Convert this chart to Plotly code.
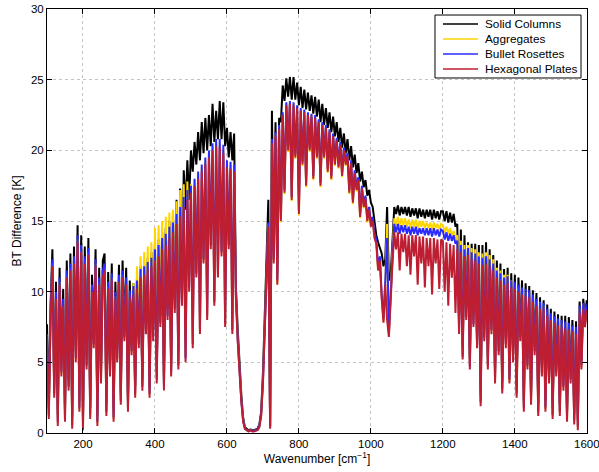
import plotly.graph_objects as go

wavenumber = list(range(100, 1605, 5))

solid_columns = [
    7.7, 1.8, 9.2, 13.0, 3.3, 10.7, 1.3, 11.7, 4.8, 10.2,
    1.6, 12.2, 3.8, 12.7, 1.1, 13.2, 5.8, 14.7, 2.3, 14.0,
    1.0, 13.2, 5.3, 13.8, 1.8, 11.2, 6.8, 13.0, 1.3, 11.7,
    4.3, 12.2, 12.7, 2.0, 11.4, 4.8, 12.0, 1.6, 10.7, 5.8,
    11.9, 2.8, 12.2, 7.3, 11.7, 2.3, 10.8, 6.3, 10.6, 3.3,
    11.0, 6.8, 11.8, 3.8, 12.0, 7.8, 12.4, 3.3, 12.8, 7.3,
    13.4, 4.3, 13.7, 8.3, 14.2, 3.8, 14.5, 8.8, 15.0, 4.8,
    15.6, 9.3, 16.5, 5.8, 17.3, 9.8, 18.6, 15.8, 19.3, 16.5,
    20.0, 18.5, 20.6, 19.0, 21.3, 19.3, 22.0, 19.8, 22.3, 20.0,
    22.5, 20.3, 23.3, 20.6, 22.8, 20.8, 23.5, 20.8, 23.4, 20.3,
    21.6, 19.5, 21.3, 19.3, 21.2, 10.3, 7.3, 4.8, 2.7, 1.1,
    0.4, 0.3, 0.2, 0.25, 0.2, 0.2, 0.25, 0.3, 0.6, 1.5,
    4.2, 8.5, 12.8, 16.5, 0.5, 22.8, 12.8, 22.0, 11.3, 22.3,
    22.0, 24.6, 23.5, 25.1, 23.8, 25.2, 23.6, 25.2, 23.6, 24.8,
    23.2, 24.5, 23.0, 24.3, 22.9, 24.1, 22.8, 23.9, 22.6, 23.8,
    22.4, 23.6, 22.0, 23.3, 21.8, 23.0, 21.6, 22.7, 21.3, 22.4,
    21.0, 22.0, 20.6, 21.6, 20.2, 21.2, 19.8, 20.8, 19.3, 20.3,
    18.8, 19.7, 18.4, 19.1, 17.8, 18.5, 17.4, 17.9, 16.8, 17.2,
    16.3, 16.0, 15.0, 14.0, 13.5, 13.0, 12.7, 11.8, 12.3, 16.0,
    10.8, 11.2, 13.5, 16.0, 15.5, 16.1, 15.4, 16.0, 15.5, 16.0,
    15.4, 16.0, 15.3, 15.9, 15.4, 15.9, 15.2, 15.9, 15.3, 15.8,
    15.2, 15.8, 15.3, 15.8, 15.1, 15.8, 15.2, 15.7, 15.1, 15.7,
    15.7, 15.0, 15.7, 14.9, 15.6, 14.9, 15.5, 14.6, 14.8, 8.0,
    14.4, 6.0, 14.0, 8.8, 13.5, 5.3, 13.4, 8.3, 13.4, 6.8,
    13.3, 2.7, 13.3, 7.3, 13.5, 5.3, 13.0, 7.8, 12.6, 4.3,
    12.2, 6.3, 12.0, 3.6, 11.6, 6.8, 11.7, 4.3, 11.3, 5.8,
    11.2, 3.3, 11.0, 7.3, 10.8, 2.3, 10.6, 5.3, 10.4, 2.8,
    10.1, 6.3, 9.9, 2.0, 9.6, 4.8, 9.4, 2.3, 9.1, 4.3,
    8.8, 1.8, 8.6, 4.8, 8.4, 2.0, 8.3, 3.8, 8.3, 1.6,
    8.2, 4.3, 8.0, 1.4, 7.9, 1.0, 9.3, 5.3, 9.5, 8.3,
    9.4,
]

aggregates = [
    6.7, 1.2, 8.2, 12.0, 2.7, 9.7, 0.7, 10.7, 4.2, 9.2,
    1.0, 11.2, 3.2, 11.7, 0.5, 12.2, 5.2, 13.7, 1.7, 13.0,
    0.4, 12.2, 4.7, 12.8, 1.2, 10.2, 6.2, 12.0, 0.7, 10.7,
    3.7, 11.2, 11.7, 1.4, 10.4, 4.2, 11.0, 1.0, 9.7, 5.2,
    10.9, 2.2, 11.2, 6.7, 10.7, 1.7, 9.8, 5.7, 10.6, 2.7,
    11.8, 7.5, 12.5, 3.2, 12.8, 8.5, 13.2, 2.7, 13.5, 8.0,
    14.5, 4.0, 14.7, 8.5, 15.0, 3.5, 15.3, 9.0, 15.6, 4.5,
    15.8, 9.0, 16.4, 5.0, 17.2, 9.5, 17.6, 5.5, 17.8, 10.5,
    17.6, 6.2, 17.9, 11.2, 18.3, 7.2, 18.8, 12.2, 19.3, 8.2,
    19.8, 13.2, 20.3, 9.2, 20.6, 11.2, 20.5, 12.7, 20.1, 7.7,
    19.1, 13.2, 19.0, 7.2, 18.8, 9.6, 6.6, 4.3, 2.3, 0.9,
    0.3, 0.2, 0.15, 0.2, 0.15, 0.15, 0.2, 0.25, 0.45, 1.25,
    3.6, 7.6, 11.7, 14.8, 0.4, 20.7, 12.2, 21.2, 10.6, 21.7,
    14.9, 22.6, 16.9, 23.3, 19.9, 23.4, 16.4, 23.3, 19.4, 23.1,
    15.4, 22.9, 18.9, 22.8, 17.4, 22.6, 19.9, 22.5, 17.9, 22.4,
    19.4, 22.1, 17.4, 21.9, 19.4, 21.7, 18.4, 21.4, 17.9, 21.1,
    18.9, 20.8, 18.7, 20.5, 18.1, 20.1, 18.9, 19.7, 16.9, 19.2,
    16.2, 18.5, 17.1, 18.0, 15.2, 17.4, 15.9, 16.7, 14.9, 15.9,
    14.7, 15.1, 13.9, 13.5, 11.6, 12.3, 9.6, 7.9, 10.6, 14.8,
    7.0, 10.5, 12.8, 15.2, 14.7, 15.3, 14.6, 15.2, 14.7, 15.2,
    14.6, 15.1, 14.5, 15.1, 14.6, 15.1, 14.5, 15.0, 14.6, 15.0,
    14.5, 14.9, 14.5, 14.9, 14.4, 14.9, 14.5, 14.8, 14.4, 14.8,
    14.7, 14.2, 14.6, 14.1, 14.5, 14.0, 14.3, 13.8, 14.0, 7.8,
    13.6, 5.5, 13.3, 8.3, 13.3, 4.8, 13.1, 7.8, 13.0, 6.3,
    12.8, 2.1, 12.7, 6.7, 12.8, 4.7, 12.6, 7.2, 12.3, 3.7,
    11.7, 5.7, 11.5, 3.0, 11.2, 6.2, 11.2, 3.7, 10.8, 5.2,
    10.5, 2.7, 10.3, 6.7, 10.1, 1.7, 10.0, 4.7, 9.9, 2.2,
    9.6, 5.7, 9.3, 1.4, 9.1, 4.2, 9.0, 1.7, 8.6, 3.7,
    8.3, 1.2, 8.1, 4.2, 7.9, 1.4, 7.8, 3.2, 7.7, 1.0,
    7.6, 3.7, 7.5, 0.8, 7.3, 0.4, 8.8, 4.7, 9.1, 7.7,
    9.0,
]

bullet_rosettes = [
    7.0, 1.3, 8.5, 12.3, 2.8, 10.0, 0.8, 11.0, 4.3, 9.5,
    1.1, 11.5, 3.3, 12.0, 0.6, 12.5, 5.3, 14.0, 1.8, 13.3,
    0.5, 12.5, 4.8, 13.1, 1.3, 10.5, 6.3, 12.3, 0.8, 11.0,
    3.8, 11.5, 12.0, 1.5, 10.7, 4.3, 11.3, 1.1, 10.0, 5.3,
    11.2, 2.3, 11.5, 6.8, 11.0, 1.8, 10.1, 5.8, 10.4, 2.8,
    10.8, 6.3, 11.6, 3.3, 11.8, 7.3, 12.1, 2.8, 12.4, 6.8,
    13.0, 3.8, 13.3, 7.8, 13.8, 3.3, 14.1, 8.3, 14.6, 4.3,
    14.9, 8.8, 15.5, 4.8, 16.0, 9.3, 16.7, 5.3, 17.2, 10.3,
    17.5, 6.3, 18.0, 11.3, 18.5, 7.3, 19.0, 12.3, 19.5, 8.3,
    20.0, 13.3, 20.5, 9.3, 20.8, 11.3, 20.8, 12.8, 20.4, 7.8,
    19.3, 13.3, 19.2, 7.3, 19.0, 9.7, 6.6, 4.3, 2.3, 0.9,
    0.3, 0.2, 0.15, 0.2, 0.15, 0.15, 0.2, 0.25, 0.5, 1.3,
    3.6, 7.7, 11.8, 14.9, 0.4, 20.8, 12.3, 21.3, 10.8, 21.8,
    15.2, 22.7, 17.2, 23.4, 20.2, 23.5, 16.7, 23.4, 19.7, 23.2,
    15.7, 23.0, 19.2, 22.9, 17.7, 22.7, 20.2, 22.6, 18.2, 22.5,
    19.7, 22.2, 17.7, 22.0, 19.7, 21.8, 18.7, 21.5, 18.2, 21.2,
    19.2, 20.9, 19.0, 20.6, 18.4, 20.2, 19.2, 19.8, 17.2, 19.3,
    16.5, 18.6, 17.4, 18.1, 15.5, 17.5, 16.2, 16.8, 15.2, 16.0,
    14.9, 15.3, 14.1, 13.7, 11.8, 12.5, 9.8, 8.1, 10.8, 13.8,
    7.1, 10.3, 12.4, 14.8, 14.2, 14.8, 14.1, 14.7, 14.2, 14.7,
    14.1, 14.6, 14.0, 14.6, 14.1, 14.6, 14.0, 14.5, 14.1, 14.5,
    14.0, 14.5, 14.0, 14.5, 13.9, 14.5, 14.0, 14.4, 13.9, 14.4,
    14.3, 13.7, 14.2, 13.6, 14.1, 13.6, 14.0, 13.4, 13.6, 7.4,
    13.3, 5.4, 13.0, 8.2, 13.1, 4.7, 12.8, 7.7, 12.7, 6.2,
    12.5, 2.2, 12.4, 6.8, 12.5, 4.8, 12.3, 7.3, 12.0, 3.8,
    11.5, 5.8, 11.3, 3.1, 11.0, 6.3, 11.1, 3.8, 10.8, 5.3,
    10.7, 2.8, 10.5, 6.8, 10.3, 1.8, 10.2, 4.8, 10.1, 2.3,
    9.8, 5.8, 9.5, 1.5, 9.3, 4.3, 9.2, 1.8, 8.8, 3.8,
    8.5, 1.3, 8.3, 4.3, 8.1, 1.5, 8.0, 3.3, 7.9, 1.1,
    7.8, 3.8, 7.6, 0.9, 7.5, 0.5, 9.0, 4.8, 9.2, 7.8,
    9.1,
]

hexagonal_plates = [
    6.5, 1.0, 8.0, 11.8, 2.5, 9.5, 0.5, 10.5, 4.0, 9.0,
    0.8, 11.0, 3.0, 11.5, 0.3, 12.0, 5.0, 13.5, 1.5, 12.8,
    0.2, 12.0, 4.5, 12.6, 1.0, 10.0, 6.0, 11.8, 0.5, 10.5,
    3.5, 11.0, 11.5, 1.2, 10.2, 4.0, 10.8, 0.8, 9.5, 5.0,
    10.7, 2.0, 11.0, 6.5, 10.5, 1.5, 9.6, 5.5, 9.8, 2.5,
    10.2, 6.0, 11.0, 3.0, 11.2, 7.0, 11.5, 2.5, 11.8, 6.5,
    12.2, 3.5, 12.5, 7.5, 13.0, 3.0, 13.3, 8.0, 13.8, 4.0,
    14.2, 8.5, 14.8, 4.5, 15.3, 9.0, 16.0, 5.0, 16.5, 10.0,
    17.0, 6.0, 17.5, 11.0, 18.0, 7.0, 18.5, 12.0, 19.0, 8.0,
    19.5, 13.0, 20.0, 9.0, 20.3, 11.0, 20.2, 12.5, 19.8, 7.5,
    18.8, 13.0, 18.7, 7.0, 18.5, 9.5, 6.5, 4.2, 2.2, 0.8,
    0.3, 0.2, 0.1, 0.2, 0.1, 0.1, 0.15, 0.2, 0.4, 1.2,
    3.5, 7.5, 11.5, 14.6, 0.3, 20.5, 12.0, 21.0, 10.5, 21.5,
    15.0, 22.5, 17.0, 23.2, 20.0, 23.3, 16.5, 23.2, 19.5, 23.0,
    15.5, 22.8, 19.0, 22.7, 17.5, 22.5, 20.0, 22.4, 18.0, 22.3,
    19.5, 22.0, 17.5, 21.8, 19.5, 21.6, 18.5, 21.3, 18.0, 21.0,
    19.0, 20.7, 18.8, 20.4, 18.2, 20.0, 19.0, 19.6, 17.0, 19.1,
    16.3, 18.4, 17.2, 17.9, 15.3, 17.3, 16.0, 16.6, 15.0, 15.8,
    14.6, 15.0, 13.8, 13.4, 11.5, 12.2, 9.5, 7.8, 10.5, 8.0,
    6.8, 10.0, 12.0, 14.2, 13.0, 14.2, 11.5, 14.1, 12.8, 14.1,
    11.8, 14.0, 11.2, 14.0, 12.5, 14.0, 10.5, 13.9, 12.0, 13.9,
    10.3, 13.8, 11.8, 13.8, 9.8, 13.8, 12.0, 13.7, 10.2, 13.7,
    13.6, 10.0, 13.5, 9.0, 13.4, 11.0, 13.3, 8.5, 13.0, 7.0,
    12.8, 5.2, 12.5, 8.0, 12.6, 4.5, 12.3, 7.5, 12.2, 6.0,
    12.0, 1.9, 11.9, 6.5, 12.0, 4.5, 11.8, 7.0, 11.5, 3.5,
    11.0, 5.5, 10.8, 2.8, 10.5, 6.0, 10.6, 3.5, 10.3, 5.0,
    10.2, 2.5, 10.0, 6.5, 9.8, 1.5, 9.7, 4.5, 9.6, 2.0,
    9.3, 5.5, 9.0, 1.2, 8.8, 4.0, 8.7, 1.5, 8.3, 3.5,
    8.0, 1.0, 7.8, 4.0, 7.6, 1.2, 7.5, 3.0, 7.4, 0.8,
    7.3, 3.5, 7.2, 0.6, 7.0, 0.2, 8.5, 4.5, 8.8, 7.5,
    8.7,
]

series_names = ["Solid Columns", "Aggregates", "Bullet Rosettes", "Hexagonal Plates"]
series_values = [solid_columns, aggregates, bullet_rosettes, hexagonal_plates]
series_colors = ["#000000", "#FFD500", "#2B2BFF", "#BE1E32"]

x_ticks = [200, 400, 600, 800, 1000, 1200, 1400, 1600]
y_ticks = [0, 5, 10, 15, 20, 25, 30]

fig = go.Figure()
for name, vals, col in zip(series_names, series_values, series_colors):
    fig.add_trace(go.Scatter(
        x=wavenumber[:len(vals)], y=vals, mode="lines", name=name,
        line=dict(color=col, width=2.0), showlegend=False,
    ))

FONT = "Liberation Sans, Arial, Helvetica, sans-serif"
axis_common = dict(
    showline=True, linecolor="#000000", linewidth=1, mirror="ticks",
    ticks="inside", ticklen=5, tickcolor="#000000",
    showgrid=True, gridcolor="#C4C4C4", griddash="dot", gridwidth=1,
    zeroline=False, automargin=False, ticklabeloverflow="allow",
    tickfont=dict(family=FONT, size=11.5, color="#000000"),
)

# Legend drawn in plot-area (paper) coordinates: box, line samples, labels
leg_x0, leg_x1, leg_y0, leg_y1 = 0.7185, 0.9889, 0.8373, 0.9858
leg_rows = [0.9646, 0.9292, 0.8939, 0.8585]
shapes = [dict(type="rect", xref="paper", yref="paper",
               x0=leg_x0, x1=leg_x1, y0=leg_y0, y1=leg_y1,
               line=dict(color="#000000", width=1), fillcolor="#FFFFFF", layer="above")]
annotations = []
for name, col, yy in zip(series_names, series_colors, leg_rows):
    shapes.append(dict(type="line", xref="paper", yref="paper",
                       x0=0.7333, x1=0.7981, y0=yy, y1=yy,
                       line=dict(color=col, width=1.5), layer="above"))
    annotations.append(dict(text=name, xref="paper", yref="paper", x=0.8065, y=yy,
                            xanchor="left", yanchor="middle", showarrow=False,
                            font=dict(family=FONT, size=11.8, color="#000000")))

fig.update_layout(
    width=599, height=472,
    margin=dict(l=47, r=12, t=9, b=39, autoexpand=False),
    paper_bgcolor="#FFFFFF", plot_bgcolor="#FFFFFF",
    font=dict(family=FONT, size=12, color="#000000"),
    xaxis=dict(range=[100, 1600.5], tickvals=x_ticks,
               title=dict(text="Wavenumber [cm<sup>−1</sup>]", standoff=3,
                          font=dict(family=FONT, size=12)),
               **axis_common),
    yaxis=dict(range=[0, 30.01], tickvals=y_ticks,
               title=dict(text="BT Difference [K]", standoff=6,
                          font=dict(family=FONT, size=12)),
               **axis_common),
    shapes=shapes,
    annotations=annotations,
    showlegend=False,
)

fig.write_html("out.html")
